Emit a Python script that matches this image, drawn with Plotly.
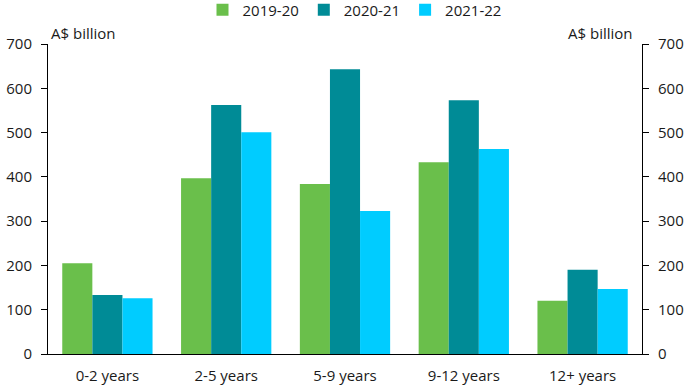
import plotly.graph_objects as go

categories = ["0-2 years", "2-5 years", "5-9 years", "9-12 years", "12+ years"]
s2019 = [205, 397, 384, 433, 120]
s2020 = [133, 562, 643, 573, 190]
s2021 = [126, 501, 323, 463, 147]
series = [("2019-20", s2019, "#6abf4b"), ("2020-21", s2020, "#008b96"), ("2021-22", s2021, "#00ccff")]
yticks = [0, 100, 200, 300, 400, 500, 600, 700]

fig = go.Figure()
for name, vals, col in series:
    fig.add_trace(go.Bar(x=categories, y=vals, name=name, marker=dict(color=col, line=dict(width=0))))
fig.add_trace(go.Scatter(x=categories, y=s2019, yaxis="y2", mode="markers",
                         marker=dict(opacity=0), showlegend=False, hoverinfo="skip"))

W, H = 695, 391
L, R, T, B = 48, 53, 44, 37
font = dict(family="Open Sans", size=15, color="#1a1a1a")
axis_common = dict(range=[0, 700], tickvals=yticks, showgrid=False, showline=True,
                   linecolor="black", linewidth=1, ticks="outside", ticklen=6,
                   tickcolor="black", zeroline=False, tickfont=font, automargin=False,
                   ticklabelstandoff=6)
fig.update_layout(
    width=W, height=H, margin=dict(l=L, r=R, t=T, b=B, autoexpand=False),
    plot_bgcolor="white", paper_bgcolor="white", font=font,
    barmode="group", bargap=0.24, bargroupgap=0,
    legend=dict(orientation="h", x=354.5 / W, xref="container", xanchor="center",
                y=(H - B - 10) / (H - T - B), yref="paper", yanchor="middle",
                font=font, itemwidth=30, traceorder="normal"),
    xaxis=dict(showline=True, linecolor="black", linewidth=1, ticks="", tickfont=font,
               automargin=False, ticklabelstandoff=8),
    yaxis=dict(**axis_common),
    yaxis2=dict(**axis_common, overlaying="y", side="right"),
    annotations=[
        dict(text="A$ billion", x=0, xref="paper", xanchor="left", xshift=1, y=1, yref="paper",
             yanchor="middle", yshift=11, showarrow=False, font=font),
        dict(text="A$ billion", x=1, xref="paper", xanchor="right", xshift=-7, y=1, yref="paper",
             yanchor="middle", yshift=11, showarrow=False, font=font),
    ],
)
fig.write_html("out.html", config={"displayModeBar": False},
               post_script="document.body.style.margin='0';")
